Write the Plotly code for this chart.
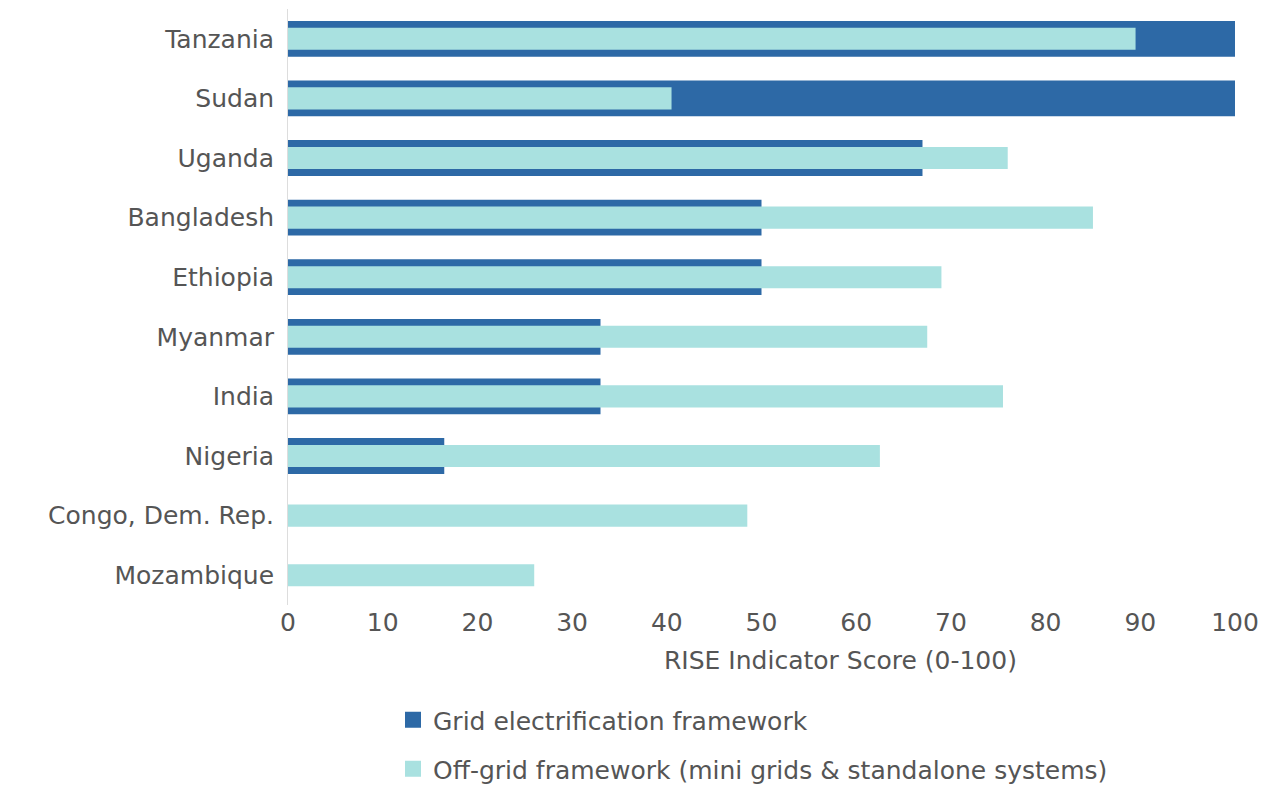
import plotly.graph_objects as go

countries = ["Tanzania", "Sudan", "Uganda", "Bangladesh", "Ethiopia",
             "Myanmar", "India", "Nigeria", "Congo, Dem. Rep.", "Mozambique"]
grid = [100, 100, 67, 50, 50, 33, 33, 16.5, None, None]
offgrid = [89.5, 40.5, 76, 85, 69, 67.5, 75.5, 62.5, 48.5, 26]
series_names = ["Grid electrification framework",
                "Off-grid framework (mini grids & standalone systems)"]
colors = ["#2D69A6", "#A9E1E0"]

W, H = 1278, 785
L, R, T, B = 288, 1235, 9, 605
pw, ph = R - L, B - T

def px(x):
    return (x - L) / pw

def py(y):
    return (B - y) / ph

FONT = "DejaVu Sans"
GRAY = "#555555"
FS = 25

fig = go.Figure()
fig.add_trace(go.Bar(
    y=countries, x=grid, orientation="h", name=series_names[0],
    marker=dict(color=colors[0], line=dict(width=0)), width=0.6, showlegend=False,
))
fig.add_trace(go.Bar(
    y=countries, x=offgrid, orientation="h", name=series_names[1],
    marker=dict(color=colors[1], line=dict(width=0)), width=0.37, showlegend=False,
))
# legend entries with larger square symbols
for i, (nm, c) in enumerate(zip(series_names, colors)):
    fig.add_trace(go.Scatter(
        x=[None], y=[None], mode="markers", name=nm,
        marker=dict(symbol="square", size=17, color=c),
        legend="legend" if i == 0 else "legend2", showlegend=True,
    ))

fig.update_layout(
    width=W, height=H, barmode="overlay",
    margin=dict(l=L, r=W - R, t=T, b=H - B, autoexpand=False),
    plot_bgcolor="white", paper_bgcolor="white",
    font=dict(family=FONT, size=FS, color=GRAY),
    xaxis=dict(range=[0, 100], tickvals=list(range(0, 101, 10)), showgrid=False,
               zeroline=False, showline=False, ticks="", tickfont=dict(size=FS, color=GRAY)),
    yaxis=dict(categoryorder="array", categoryarray=countries[::-1], autorange=False,
               range=[-0.5, 9.5], showgrid=False, showline=True, linecolor="#dddddd",
               linewidth=1, ticks="", ticksuffix=" ", tickfont=dict(size=FS, color=GRAY)),
    legend=dict(x=px(393), y=py(720), xanchor="left", yanchor="middle",
                font=dict(size=FS, color=GRAY), bgcolor="rgba(0,0,0,0)"),
    legend2=dict(x=px(393), y=py(769), xanchor="left", yanchor="middle",
                 font=dict(size=FS, color=GRAY), bgcolor="rgba(0,0,0,0)"),
    showlegend=True,
    annotations=[dict(text="RISE Indicator Score (0-100)", x=px(840), y=py(660),
                      xref="paper", yref="paper", showarrow=False,
                      font=dict(size=FS, color=GRAY), xanchor="center", yanchor="middle")],
)

fig.write_html("out.html")
